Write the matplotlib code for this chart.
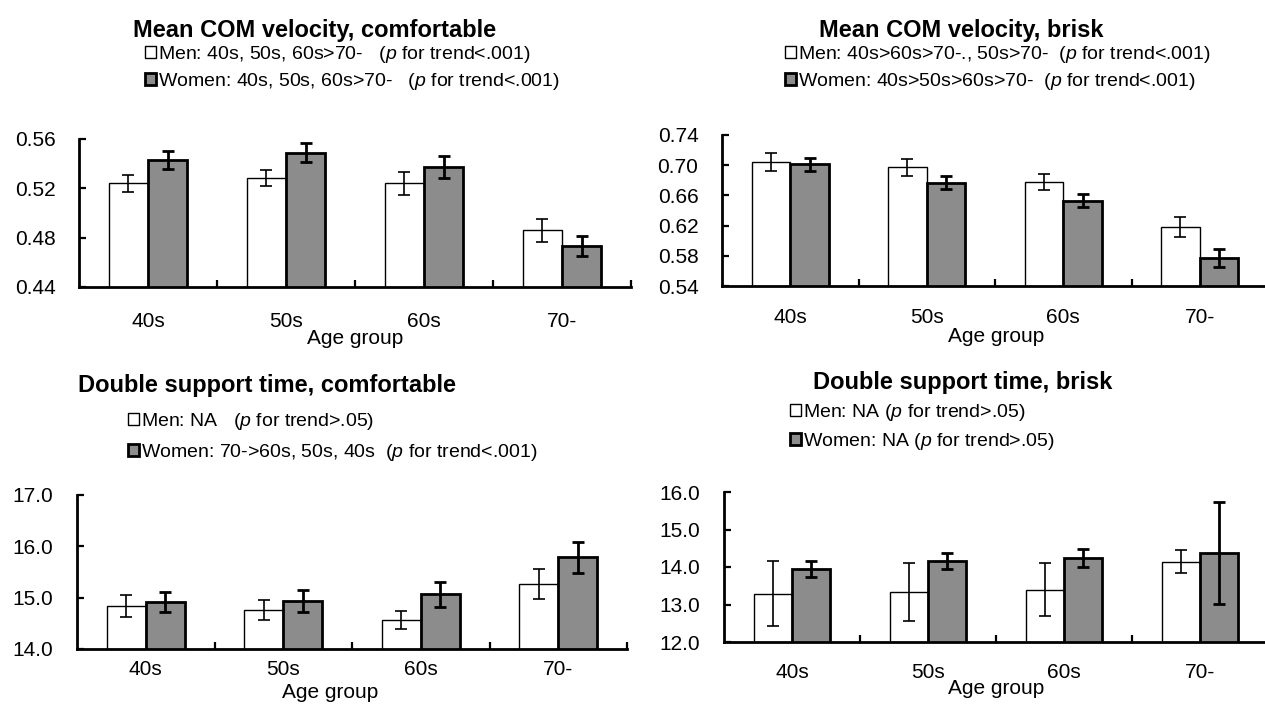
import numpy
from matplotlib import pyplot as plt

plt.rcParams['font.family'] = ['Liberation Sans', 'DejaVu Sans']
plt.rcParams['mathtext.fontset'] = 'custom'
plt.rcParams['mathtext.rm'] = 'Liberation Sans'
plt.rcParams['mathtext.it'] = 'Liberation Sans:italic'

W, H = 1265, 710

groups = ['40s', '50s', '60s', '70-']

# mean COM velocity, comfortable
vel_comf_men = [0.524, 0.528, 0.524, 0.486]
vel_comf_men_err = [0.007, 0.0065, 0.009, 0.0095]
vel_comf_women = [0.543, 0.549, 0.537, 0.473]
vel_comf_women_err = [0.0075, 0.0077, 0.009, 0.0082]

# mean COM velocity, brisk
vel_brisk_men = [0.704, 0.697, 0.678, 0.618]
vel_brisk_men_err = [0.012, 0.011, 0.011, 0.013]
vel_brisk_women = [0.701, 0.677, 0.653, 0.577]
vel_brisk_women_err = [0.009, 0.009, 0.009, 0.0115]

# double support time, comfortable
dst_comf_men = [14.84, 14.76, 14.565, 15.26]
dst_comf_men_err = [0.21, 0.19, 0.18, 0.29]
dst_comf_women = [14.92, 14.935, 15.065, 15.79]
dst_comf_women_err = [0.2, 0.21, 0.24, 0.30]

# double support time, brisk
dst_brisk_men = [13.29, 13.33, 13.395, 14.146]
dst_brisk_men_err = [0.87, 0.77, 0.71, 0.30]
dst_brisk_women = [13.94, 14.17, 14.25, 14.37]
dst_brisk_women_err = [0.21, 0.21, 0.24, 1.36]

fig = plt.figure(figsize=(W / 100, H / 100), dpi=100)


def px(x, y):
    # pixel position (top-left origin) -> figure fraction
    return x / W, 1 - y / H


def panel(box, men, men_err, women, women_err, yticks, fmt, xpad,
          title, title_xy, legend_labels, legend_xy, spacing, xlabel_xy):
    left, top, right, bottom = box
    ax = fig.add_axes([left / W, 1 - bottom / H, (right - left) / W, (bottom - top) / H])
    x = numpy.arange(len(groups))
    w = 0.283
    bm = ax.bar(x - w / 2, men, w, color='white', edgecolor='black', linewidth=1.0, zorder=2)
    bw = ax.bar(x + w / 2, women, w, color='#8c8c8c', edgecolor='black', linewidth=2.0, zorder=2)
    ax.errorbar(x - w / 2, men, yerr=men_err, fmt='none', ecolor='black',
                elinewidth=1.2, capsize=4, capthick=1.2, zorder=3)
    ax.errorbar(x + w / 2, women, yerr=women_err, fmt='none', ecolor='black',
                elinewidth=2.0, capsize=4, capthick=2.0, zorder=3)
    ax.set_xlim(-0.5, 3.5)
    ax.set_ylim(yticks[0], yticks[-1])
    ax.set_yticks(yticks)
    ax.set_yticklabels([fmt % v for v in yticks])
    ax.set_xticks(x)
    ax.set_xticklabels(groups)
    ax.set_xticks([0.5, 1.5, 2.5, 3.5], minor=True)
    ax.tick_params(axis='x', which='major', length=0, pad=xpad, labelsize=15)
    ax.tick_params(axis='x', which='minor', direction='in', length=5, width=1.6)
    ax.tick_params(axis='y', direction='in', length=5, width=1.6, pad=17, labelsize=15)
    for s in ['top', 'right']:
        ax.spines[s].set_visible(False)
    for s in ['left', 'bottom']:
        ax.spines[s].set_linewidth(2.0)
    ax.patch.set_alpha(0)

    tx, ty = px(*title_xy)
    fig.text(tx, ty, title, ha='center', va='center', fontsize=17, fontweight='bold')
    lx, ly = px(*xlabel_xy)
    fig.text(lx, ly, 'Age group', ha='center', va='center', fontsize=15)
    gx, gy = px(*legend_xy)
    ax.legend([bm, bw], legend_labels, loc='upper left', bbox_to_anchor=(gx, gy),
              bbox_transform=fig.transFigure, frameon=False, fontsize=14,
              handlelength=0.55, handleheight=0.55, handletextpad=0.12,
              labelspacing=spacing, borderpad=0, borderaxespad=0)
    return ax


panel((79, 139, 631, 287), vel_comf_men, vel_comf_men_err, vel_comf_women, vel_comf_women_err,
      [0.44, 0.48, 0.52, 0.56], '%.2f', 18,
      'Mean COM velocity, comfortable', (315, 30),
      ['Men: 40s, 50s, 60s>70-   ($\\it{p}$ for trend<.001)',
       'Women: 40s, 50s, 60s>70-   ($\\it{p}$ for trend<.001)'],
      (145, 44), 0.3, (355, 338))

panel((722, 135, 1268, 286), vel_brisk_men, vel_brisk_men_err, vel_brisk_women, vel_brisk_women_err,
      [0.54, 0.58, 0.62, 0.66, 0.70, 0.74], '%.2f', 16,
      'Mean COM velocity, brisk', (961, 30),
      ['Men: 40s>60s>70-., 50s>70-  ($\\it{p}$ for trend<.001)',
       'Women: 40s>50s>60s>70-  ($\\it{p}$ for trend<.001)'],
      (785, 44), 0.3, (996, 337))

panel((77, 495, 627, 649), dst_comf_men, dst_comf_men_err, dst_comf_women, dst_comf_women_err,
      [14.0, 15.0, 16.0, 17.0], '%.1f', 8,
      'Double support time, comfortable', (267, 385),
      ['Men: NA   ($\\it{p}$ for trend>.05)',
       'Women: 70->60s, 50s, 40s  ($\\it{p}$ for trend<.001)'],
      (128, 411), 0.5, (330, 693))

panel((724, 492, 1268, 642), dst_brisk_men, dst_brisk_men_err, dst_brisk_women, dst_brisk_women_err,
      [12.0, 13.0, 14.0, 15.0, 16.0], '%.1f', 15,
      'Double support time, brisk', (963, 383),
      ['Men: NA ($\\it{p}$ for trend>.05)',
       'Women: NA ($\\it{p}$ for trend>.05)'],
      (790, 402), 0.4, (996, 688))

plt.savefig('out.png', dpi=100)
